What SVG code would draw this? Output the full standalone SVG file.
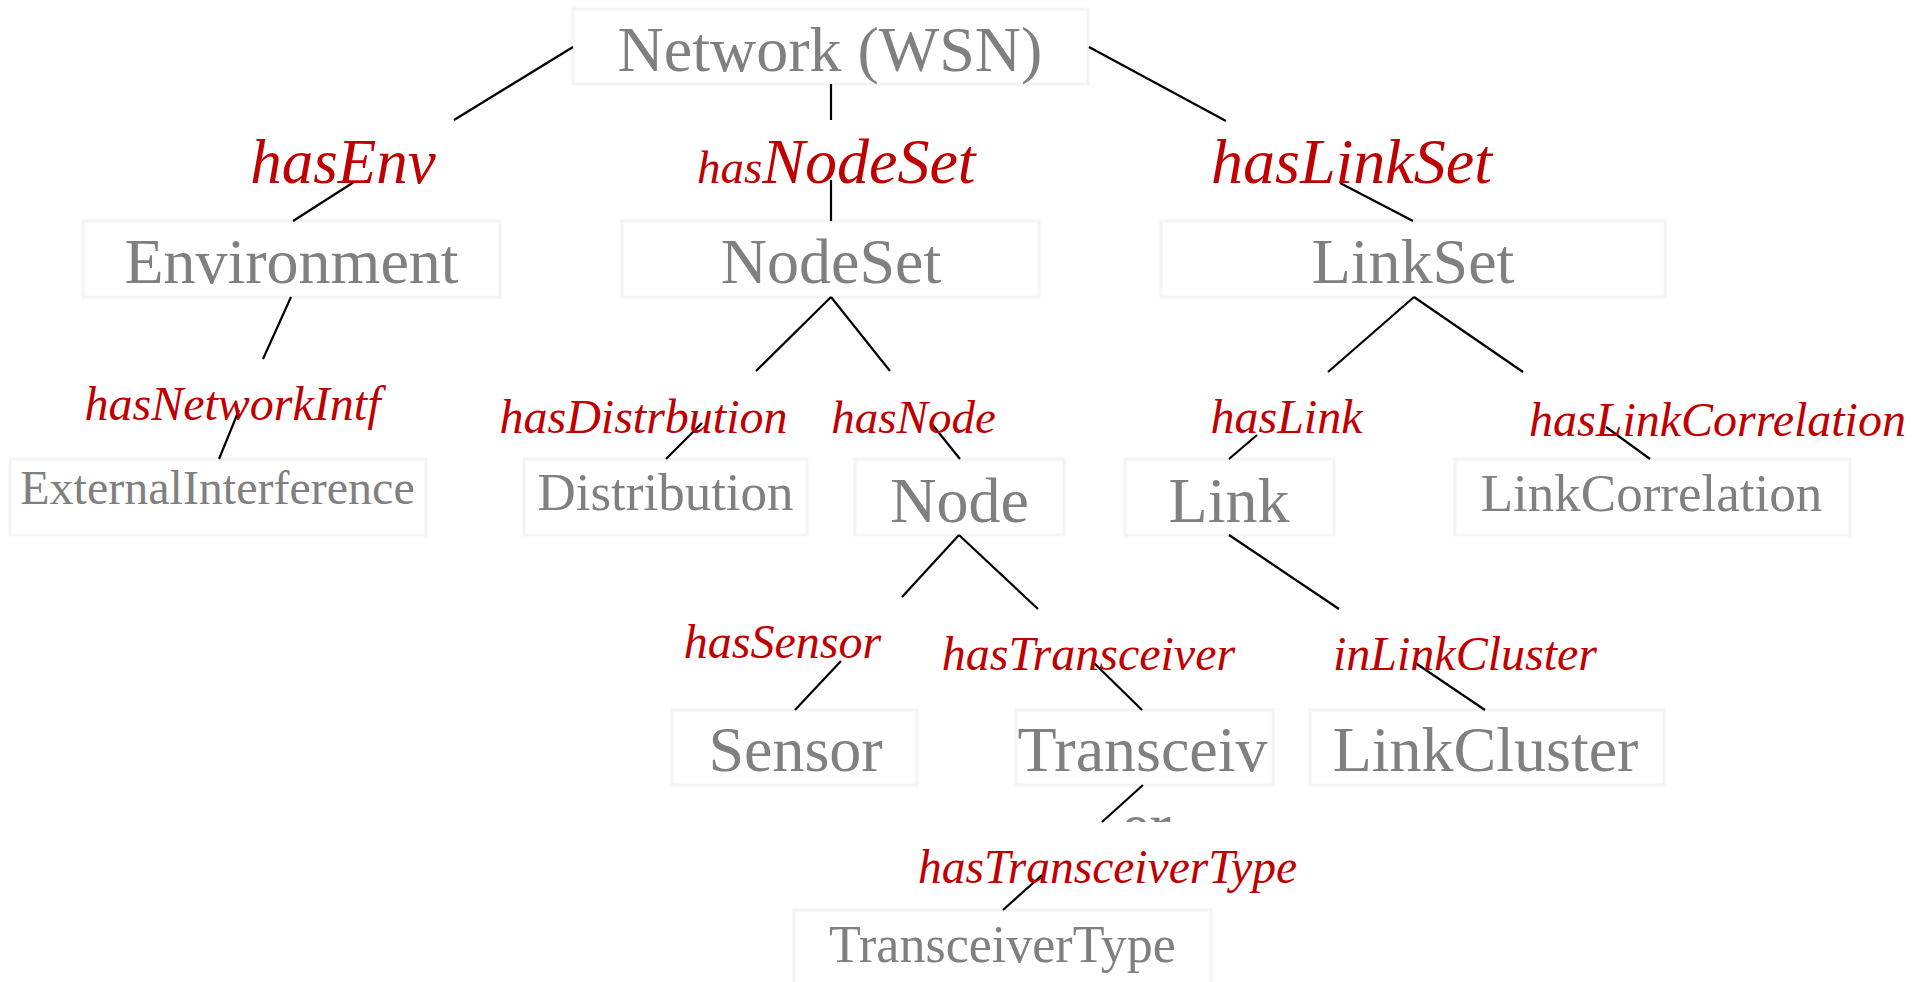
<svg xmlns="http://www.w3.org/2000/svg" width="1927" height="982" viewBox="0 0 1927 982">
<style>
.box{fill:#ffffff;stroke:#f4f4f4;stroke-width:3}
.nt{font-family:"Liberation Serif","Times New Roman",serif;fill:#808080;text-anchor:middle}
.lb{font-family:"Liberation Serif","Times New Roman",serif;font-style:italic;fill:#c00000;text-anchor:middle}
.cn line{stroke:#000000;stroke-width:2.2;stroke-linecap:butt}
</style>
<defs>
<clipPath id="erclip"><rect x="1000" y="790" width="300" height="32"/></clipPath>
</defs>
<rect width="1927" height="982" fill="#ffffff"/>
<g id="nodes">
<g id="n-network"><rect class="box" x="573" y="9" width="515" height="75"/><text class="nt" x="830" y="71" font-size="64">Network (WSN)</text></g>
<g id="n-environment"><rect class="box" x="83" y="221" width="417" height="76"/><text class="nt" x="291.5" y="283" font-size="64">Environment</text></g>
<g id="n-nodeset"><rect class="box" x="622" y="221" width="417" height="76"/><text class="nt" x="831" y="283" font-size="64">NodeSet</text></g>
<g id="n-linkset"><rect class="box" x="1161" y="221" width="504" height="76"/><text class="nt" x="1413" y="283" font-size="64">LinkSet</text></g>
<g id="n-extint"><rect class="box" x="10" y="459" width="416" height="76"/><text class="nt" x="217.5" y="504" font-size="48">ExternalInterference</text></g>
<g id="n-distribution"><rect class="box" x="524" y="459" width="283" height="76"/><text class="nt" x="665.5" y="510" font-size="53">Distribution</text></g>
<g id="n-node"><rect class="box" x="855" y="459" width="209" height="76"/><text class="nt" x="959.5" y="522" font-size="64">Node</text></g>
<g id="n-link"><rect class="box" x="1125" y="459" width="209" height="76"/><text class="nt" x="1229" y="522" font-size="64">Link</text></g>
<g id="n-linkcorrelation"><rect class="box" x="1455" y="459" width="395" height="76"/><text class="nt" x="1651.5" y="511" font-size="53">LinkCorrelation</text></g>
<g id="n-sensor"><rect class="box" x="672" y="710" width="245" height="75"/><text class="nt" x="795.5" y="771" font-size="64">Sensor</text></g>
<g id="n-transceiver"><rect class="box" x="1016" y="710" width="257" height="75"/><text class="nt" x="1142.5" y="771" font-size="64">Transceiv</text><text class="nt" x="1146" y="847" font-size="64" clip-path="url(#erclip)">er</text></g>
<g id="n-linkcluster"><rect class="box" x="1310" y="710" width="354" height="75"/><text class="nt" x="1485.5" y="771" font-size="64">LinkCluster</text></g>
<g id="n-transceivertype"><rect class="box" x="794" y="910" width="417" height="80"/><text class="nt" x="1002.5" y="962" font-size="52">TransceiverType</text></g>
</g>
<g id="connectors" class="cn">
<line x1="573" y1="47" x2="454" y2="120"/>
<line x1="354" y1="182" x2="293" y2="221"/>
<line x1="831" y1="84" x2="831" y2="120"/>
<line x1="831" y1="180" x2="831" y2="221"/>
<line x1="1089" y1="47" x2="1226" y2="121"/>
<line x1="1340" y1="183" x2="1413" y2="221"/>
<line x1="291" y1="297" x2="263" y2="359"/>
<line x1="239" y1="410" x2="219" y2="459"/>
<line x1="831" y1="297" x2="756" y2="371"/>
<line x1="831" y1="297" x2="890" y2="371"/>
<line x1="702" y1="423" x2="666" y2="459"/>
<line x1="931" y1="423" x2="960" y2="459"/>
<line x1="1414" y1="297" x2="1328" y2="372"/>
<line x1="1414" y1="297" x2="1523" y2="372"/>
<line x1="1257" y1="435" x2="1229" y2="459"/>
<line x1="1606" y1="427" x2="1650" y2="459"/>
<line x1="959" y1="535" x2="902" y2="597"/>
<line x1="959" y1="535" x2="1038" y2="609"/>
<line x1="1229" y1="535" x2="1339" y2="609"/>
<line x1="841" y1="661" x2="795" y2="710"/>
<line x1="1093" y1="662" x2="1142" y2="710"/>
<line x1="1414" y1="662" x2="1485" y2="710"/>
<line x1="1143" y1="785" x2="1102" y2="822"/>
<line x1="1042" y1="875" x2="1003" y2="910"/>
</g>
<g id="labels">
<text class="lb" x="343" y="183" font-size="63">hasEnv</text>
<text class="lb" x="697" y="183" style="text-anchor:start"><tspan font-size="47">has</tspan><tspan font-size="64">NodeSet</tspan></text>
<text class="lb" x="1351.5" y="183" font-size="64">hasLinkSet</text>
<text class="lb" x="232.5" y="420" font-size="48">hasNetworkIntf</text>
<text class="lb" x="643.5" y="433" font-size="48">hasDistrbution</text>
<text class="lb" x="913.5" y="433" font-size="47">hasNode</text>
<text class="lb" x="1286.5" y="433" font-size="48">hasLink</text>
<text class="lb" x="1717.5" y="436" font-size="48">hasLinkCorrelation</text>
<text class="lb" x="782.5" y="658" font-size="48">hasSensor</text>
<text class="lb" x="1088.5" y="670" font-size="48">hasTransceiver</text>
<text class="lb" x="1465" y="670" font-size="48">inLinkCluster</text>
<text class="lb" x="1107.5" y="883" font-size="47.5">hasTransceiverType</text>
</g>
</svg>
